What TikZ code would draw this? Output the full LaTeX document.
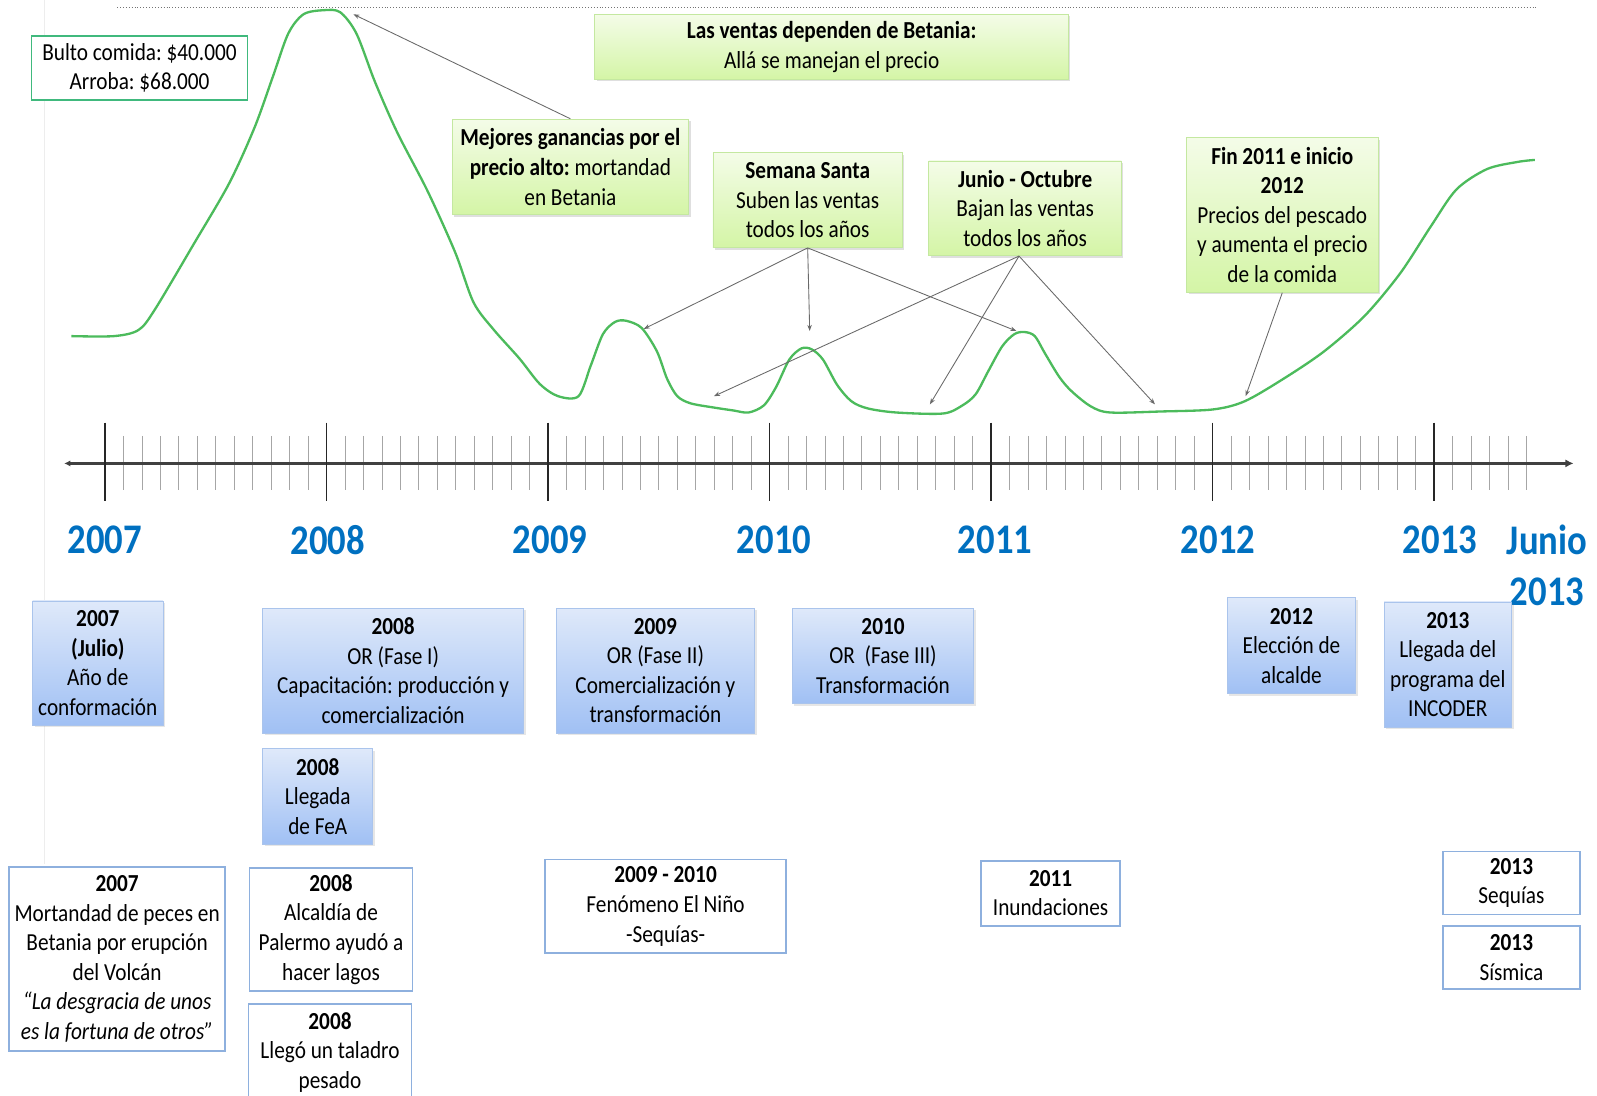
\documentclass[tikz,border=0pt]{standalone}
\usepackage{fontspec}
\setmainfont{Carlito}[FakeStretch=0.87]
\usepackage{tikz}
\usetikzlibrary{arrows.meta, shadows}
\frenchspacing

\definecolor{curvegreen}{RGB}{76,187,92}
\definecolor{greentop}{RGB}{244,252,232}
\definecolor{greenbot}{RGB}{212,245,166}
\definecolor{greenline}{RGB}{196,232,160}
\definecolor{bluetop}{RGB}{223,233,250}
\definecolor{bluebot}{RGB}{160,192,244}
\definecolor{blueline}{RGB}{170,196,236}
\definecolor{frameblue}{RGB}{142,176,222}
\definecolor{framegreen}{RGB}{64,185,125}
\definecolor{yearblue}{RGB}{0,112,192}
\definecolor{pointergray}{RGB}{105,105,105}

\tikzset{
  txt/.style={font=\fontsize{12}{14.5}\selectfont, align=center, inner sep=0pt},
  notegreen/.style={txt, draw=greenline, top color=greentop, bottom color=greenbot,
    drop shadow={opacity=0.25, shadow xshift=1pt, shadow yshift=-1pt}},
  noteblue/.style={txt, draw=blueline, top color=bluetop, bottom color=bluebot,
    drop shadow={opacity=0.2, shadow xshift=1pt, shadow yshift=-1pt}},
  noteframe/.style={txt, draw=frameblue, line width=0.3mm, fill=white},
  yearlbl/.style={font=\fontsize{20.7}{24.8}\selectfont\bfseries, text=yearblue, align=center, inner sep=0pt},
  pointer/.style={draw=pointergray, line width=0.15mm, -{Stealth[length=3pt,width=2.2pt]}},
}

\begin{document}
\begin{tikzpicture}[x=0.5pt, y=-0.5pt]

	\useasboundingbox (0,0) rectangle (1568,1076);
	\clip (0,0) rectangle (1568,1076);

	\draw [black!7, line width = 0.1mm] (43,0) -- (43,848);
	\draw [black!55, densely dotted, line width = 0.15mm] (115,7) -- (1510,7);

	%%%%%%%%%%%%%%%%%%%%%%%%%%%%%%%%%%%%%%%%%%%%%%%%%%%%%%%%%%%%%%%%%%%%%

	\draw [curvegreen, line width = 0.4mm] plot [smooth, tension=0.5] coordinates {
		(70,330) (112,330) (136,324) (152,304) (190,240) (225,180) (250,125) (268,75)
		(283,33) (298,14) (318,10) (334,12) (350,33) (368,80) (390,130) (420,188)
		(447,248) (465,297) (485,324) (510,352) (530,377) (548,389) (568,389) (580,359)
		(592,328) (604,316) (615,315) (630,322) (645,345) (655,372) (665,389) (678,396)
		(700,400) (720,403) (735,405) (750,398) (762,380) (775,353) (787,342) (797,343)
		(808,353) (822,378) (836,394) (852,401) (880,405) (926,406) (945,398) (958,387)
		(970,365) (984,340) (996,328) (1006,326) (1016,330) (1026,347) (1040,370)
		(1052,384) (1071,399) (1090,405) (1140,404) (1191,402) (1222,394) (1260,372)
		(1300,345) (1340,310) (1375,268) (1405,222) (1430,186) (1460,166) (1490,159)
		(1507,157)};

	\node [noteframe, draw=framegreen, minimum width=106pt, minimum height=31.5pt] (bulto) at (137,66.5)
		{Bulto comida: \$40.000\\Arroba: \$68.000};

	\node [notegreen, minimum width=232.5pt, minimum height=32pt] (betania) at (816.5,46)
		{\textbf{Las ventas dependen de Betania:}\\Allá se manejan el precio};
	\node [notegreen, minimum width=116pt, minimum height=47pt] (mejores) at (560,164)
		{\textbf{Mejores ganancias por el}\\\textbf{precio alto:} mortandad\\en Betania};
	\node [notegreen, minimum width=93pt, minimum height=46.5pt] (semana) at (793,196.5)
		{\textbf{Semana Santa}\\Suben las ventas\\todos los años};
	\node [notegreen, minimum width=94.5pt, minimum height=46.5pt] (junio) at (1006.5,204.5)
		{\textbf{Junio - Octubre}\\Bajan las ventas\\todos los años};
	\node [notegreen, minimum width=94pt, minimum height=76pt] (fin) at (1259,211)
		{\textbf{Fin 2011 e inicio}\\\textbf{2012}\\Precios del pescado\\y aumenta el precio\\de la comida};

	\coordinate (peak) at (347,14);
	\coordinate (sube1) at (632,323);
	\coordinate (sube2) at (795,325);
	\coordinate (sube3) at (998,325);
	\coordinate (baja1) at (701,389);
	\coordinate (baja2) at (913,397);
	\coordinate (baja3) at (1134,397);
	\coordinate (precio) at (1223,389);

	\draw [pointer] (mejores.north) -- (peak);
	\draw [pointer] (semana.south) -- (sube1);
	\draw [pointer] (semana.south) -- (sube2);
	\draw [pointer] (semana.south) -- (sube3);
	\draw [pointer] ([xshift=-3pt]junio.south) -- (baja1);
	\draw [pointer] ([xshift=-3pt]junio.south) -- (baja2);
	\draw [pointer] ([xshift=-3pt]junio.south) -- (baja3);
	\draw [pointer] (fin.south) -- (precio);

	%%%%%%%%%%%%%%%%%%%%%%%%%%%%%%%%%%%%%%%%%%%%%%%%%%%%%%%%%%%%%%%%%%%%%

	\foreach \m in {1,...,77}
		\draw [black!35, line width = 0.1mm] ({103+18.125*\m},428) -- ({103+18.125*\m},481);
	\draw [black!75, line width = 0.5mm, {Latex[length=3pt,width=3pt]}-{Latex[length=4pt,width=4pt]}] (63,455) -- (1545,455);
	\foreach \x in {103,320.5,538,755.5,973,1190.5,1408}
		\draw [black!85, line width = 0.25mm] (\x,415) -- (\x,492);

	\node [yearlbl] (y2007) at (103,530) {2007};
	\node [yearlbl] (y2008) at (322,530) {2008};
	\node [yearlbl] (y2009) at (540,530) {2009};
	\node [yearlbl] (y2010) at (760,530) {2010};
	\node [yearlbl] (y2011) at (977,530) {2011};
	\node [yearlbl] (y2012) at (1196,530) {2012};
	\node [yearlbl] (y2013) at (1414,530) {2013};
	\node [yearlbl] (yjunio) at (1519,555) {Junio\\2013};

	%%%%%%%%%%%%%%%%%%%%%%%%%%%%%%%%%%%%%%%%%%%%%%%%%%%%%%%%%%%%%%%%%%%%%

	\node [noteblue, minimum width=64pt, minimum height=61pt] (conf) at (96,651)
		{\textbf{2007}\\\textbf{(Julio)}\\Año de\\conformación};
	\node [noteblue, minimum width=128pt, minimum height=61.5pt] (fase1) at (386,658.5)
		{\textbf{2008}\\OR (Fase I)\\Capacitación: producción y\\comercialización};
	\node [noteblue, minimum width=97.5pt, minimum height=61.5pt] (fase2) at (643.5,658.5)
		{\textbf{2009}\\OR (Fase II)\\Comercialización y\\transformación};
	\node [noteblue, minimum width=89pt, minimum height=47pt] (fase3) at (867,644)
		{\textbf{2010}\\OR\ \ (Fase III)\\Transformación};
	\node [noteblue, minimum width=63pt, minimum height=47pt] (alcalde) at (1268,634)
		{\textbf{2012}\\Elección de\\alcalde};
	\node [noteblue, minimum width=62.5pt, minimum height=61.5pt] (incoder) at (1421.5,652.5)
		{\textbf{2013}\\Llegada del\\programa del\\INCODER};
	\node [noteblue, minimum width=54pt, minimum height=47pt] (fea) at (312,782)
		{\textbf{2008}\\Llegada\\de FeA};

	%%%%%%%%%%%%%%%%%%%%%%%%%%%%%%%%%%%%%%%%%%%%%%%%%%%%%%%%%%%%%%%%%%%%%

	\node [noteframe, minimum width=106pt, minimum height=90.5pt] (volcan) at (115,941.5)
		{\textbf{2007}\\Mortandad de peces en\\Betania por erupción\\del Volcán\\\textit{“La desgracia de unos}\\\textit{es la fortuna de otros”}};
	\node [noteframe, minimum width=80pt, minimum height=60.5pt] (lagos) at (325,912.5)
		{\textbf{2008}\\Alcaldía de\\Palermo ayudó a\\hacer lagos};
	\node [noteframe, minimum width=80pt, minimum height=47pt] (taladro) at (324,1033)
		{\textbf{2008}\\Llegó un taladro\\pesado};
	\node [noteframe, minimum width=118.5pt, minimum height=46pt] (nino) at (653.5,890)
		{\textbf{2009 - 2010}\\Fenómeno El Niño\\-Sequías-};
	\node [noteframe, minimum width=68.5pt, minimum height=32pt] (inund) at (1031.5,877)
		{\textbf{2011}\\Inundaciones};
	\node [noteframe, minimum width=67pt, minimum height=31pt] (sequia) at (1484,867)
		{\textbf{2013}\\Sequías};
	\node [noteframe, minimum width=67pt, minimum height=31pt] (sismo) at (1484,940)
		{\textbf{2013}\\Sísmica};

\end{tikzpicture}
\end{document}
